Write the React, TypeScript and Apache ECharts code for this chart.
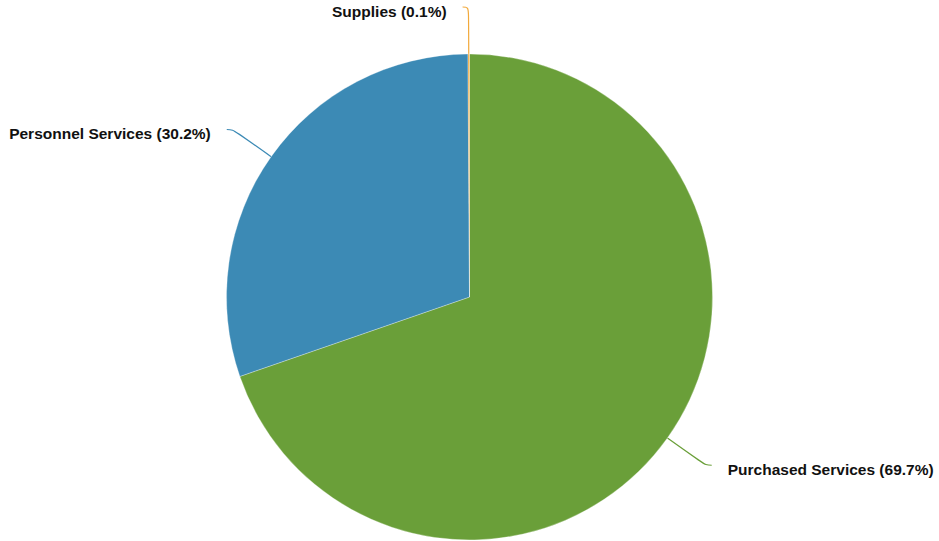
import React, { useEffect, useRef } from "react";
import * as echarts from "echarts";

const categories = ["Purchased Services", "Personnel Services", "Supplies"];
const values = [69.7, 30.2, 0.1];
const colors = ["#6a9f39", "#3c8ab5", "#f2a93b"];

export default function App() {
  const ref = useRef<HTMLDivElement>(null);
  useEffect(() => {
    const chart = echarts.init(ref.current!, undefined, { renderer: "svg" });
    chart.setOption({
      animation: false,
      series: [
        {
          type: "pie",
          center: [469.5, 297],
          radius: [0, 243],
          startAngle: 90,
          clockwise: true,
          avoidLabelOverlap: false,
          data: categories.map((name, i) => ({
            name,
            value: values[i],
            itemStyle: { color: colors[i] },
          })),
          itemStyle: { borderColor: "rgba(255,255,255,0.6)", borderWidth: 0.5 },
          label: {
            show: true,
            formatter: (p: any) => `{t|${p.name} (${p.value.toFixed(1)}%)}`,
            distanceToLabelLine: 16,
            rich: {
              t: {
                fontFamily: "Liberation Sans, Arial, sans-serif",
                fontWeight: "bold",
                fontSize: 15.5,
                color: "#111",
                lineHeight: 18,
                padding: [8, 0, 0, 0],
              },
            },
          },
          labelLine: {
            show: true,
            length: 47,
            length2: 6,
            smooth: 0.4,
            lineStyle: { width: 1.2 },
          },
        },
      ],
    });
    return () => chart.dispose();
  }, []);
  return (
    <div
      ref={ref}
      style={{ position: "absolute", left: 0, top: 0, width: 939, height: 541 }}
    />
  );
}
